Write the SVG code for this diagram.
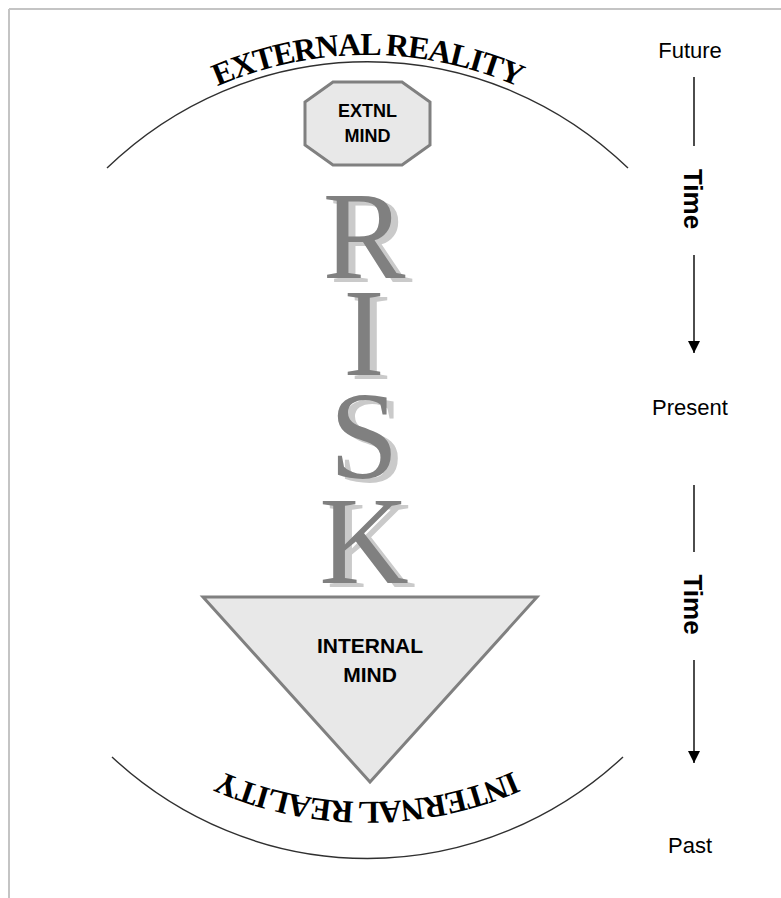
<svg xmlns="http://www.w3.org/2000/svg" width="781" height="898" viewBox="0 0 781 898">
  <style>
    .frame { stroke: #c4c4c4; stroke-width: 2; fill: none; }
    .arc { stroke: #303030; stroke-width: 1.4; fill: none; }
    .reality { font-family: "Liberation Serif", serif; font-weight: bold; font-size: 32px; letter-spacing: -1.3px; fill: #000; }
    .shape { fill: #e8e8e8; stroke: #808080; stroke-width: 3; }
    .mind { font-family: "Liberation Sans", Arial, sans-serif; font-weight: bold; fill: #000; text-anchor: middle; }
    .risk { font-family: "Liberation Serif", serif; font-size: 124px; text-anchor: middle; }
    .riskmain { fill: #808080; }
    .riskshadow { fill: #cacaca; }
    .label { font-family: "Liberation Sans", Arial, sans-serif; font-size: 22px; fill: #000; text-anchor: middle; }
    .time { font-family: "Liberation Sans", Arial, sans-serif; font-size: 26px; font-weight: bold; fill: #000; text-anchor: middle; }
    .tline { stroke: #000; stroke-width: 1.4; fill: none; }
  </style>
  <defs>
    <marker id="arrow" markerUnits="userSpaceOnUse" markerWidth="14" markerHeight="14" refX="12" refY="6" orient="auto">
      <path d="M0,0 L12,6 L0,12 Z" fill="#000"/>
    </marker>
    <path id="topPath" d="M 68 204.4 A 375 375 0 0 1 667 204.4"/>
    <path id="botPath" d="M 644 673 A 361 361 0 0 1 91 673"/>
  </defs>

  <g id="frame">
    <line class="frame" x1="9" y1="9" x2="781" y2="9"/>
    <line class="frame" x1="9" y1="9" x2="9" y2="898"/>
  </g>

  <g id="external-reality">
    <path class="arc" d="M 107 168 A 383 398 0 0 1 628 168"/>
    <text class="reality"><textPath href="#topPath" startOffset="50%" text-anchor="middle">EXTERNAL REALITY</textPath></text>
  </g>

  <g id="internal-reality">
    <path class="arc" d="M 112 757 A 383 398 0 0 0 623 757"/>
    <text class="reality"><textPath href="#botPath" startOffset="50%" text-anchor="middle">INTERNAL REALITY</textPath></text>
  </g>

  <g id="extnl-mind">
    <polygon class="shape" points="333,82 402,82 430,102 430,145 402,165 333,165 305,145 305,102"/>
    <text class="mind" font-size="18" x="367.5" y="117">EXTNL</text>
    <text class="mind" font-size="18" x="367.5" y="142">MIND</text>
  </g>

  <g id="risk">
    <g class="risk riskshadow" transform="translate(7,4)">
      <text x="364" y="278">R</text>
      <text x="364" y="375">I</text>
      <text x="364" y="478">S</text>
      <text x="364" y="583">K</text>
    </g>
    <g class="risk riskmain">
      <text x="364" y="278">R</text>
      <text x="364" y="375">I</text>
      <text x="364" y="478">S</text>
      <text x="364" y="583">K</text>
    </g>
  </g>

  <g id="internal-mind">
    <polygon class="shape" points="203,597 537,597 370,782"/>
    <text class="mind" font-size="21" x="370" y="653">INTERNAL</text>
    <text class="mind" font-size="21" x="370" y="682">MIND</text>
  </g>

  <g id="time-labels">
    <text class="label" x="690" y="58">Future</text>
    <text class="label" x="690" y="415">Present</text>
    <text class="label" x="690" y="853">Past</text>
    <text class="time" transform="translate(684,199) rotate(90)">Time</text>
    <text class="time" transform="translate(684,604.5) rotate(90)">Time</text>
  </g>

  <g id="connectors">
    <line class="tline" x1="694" y1="77" x2="694" y2="146"/>
    <line class="tline" x1="694" y1="255" x2="694" y2="353" marker-end="url(#arrow)"/>
    <line class="tline" x1="694" y1="485" x2="694" y2="552"/>
    <line class="tline" x1="694" y1="660" x2="694" y2="763" marker-end="url(#arrow)"/>
  </g>
</svg>
